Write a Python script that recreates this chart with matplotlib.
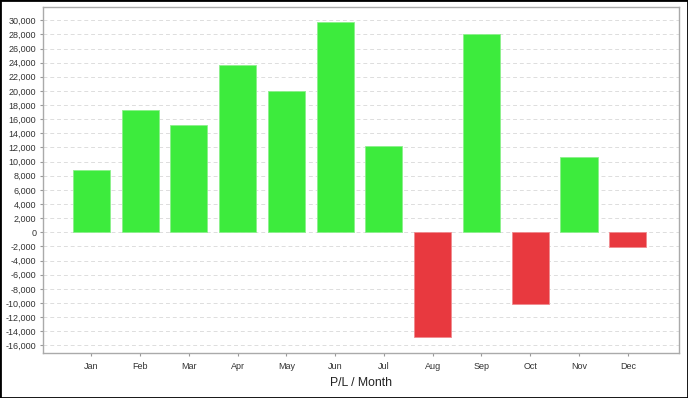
import matplotlib
matplotlib.use("Agg")
import matplotlib.pyplot as plt
from matplotlib.patches import Rectangle
from matplotlib.ticker import FuncFormatter, MultipleLocator

plt.rcParams["font.family"] = ["Liberation Sans", "DejaVu Sans"]

months = ["Jan", "Feb", "Mar", "Apr", "May", "Jun",
          "Jul", "Aug", "Sep", "Oct", "Nov", "Dec"]
pl_values = [8800, 17300, 15200, 23700, 20050, 29700,
             12200, -14800, 28100, -10200, 10600, -2050]

green = "#3deb3d"
red = "#e8393f"

fig = plt.figure(figsize=(6.88, 3.98), dpi=100)
ax = fig.add_axes([42.5 / 688, 45 / 398, (679 - 42.5) / 688, (353 - 7) / 398])

colors = [green if v >= 0 else red for v in pl_values]
edges = ["#8cf08c" if v >= 0 else "#f08a8e" for v in pl_values]
x = list(range(len(months)))
ax.bar(x, pl_values, width=0.76, color=colors, edgecolor=edges,
       linewidth=0.6, zorder=3)

ax.set_xlim(-1.0, 12.05)
ax.set_ylim(-17070, 31870)
ax.yaxis.set_major_locator(MultipleLocator(2000))
ax.yaxis.set_major_formatter(FuncFormatter(lambda v, p: f"{int(v):,}"))
ax.set_xticks(x)
ax.set_xticklabels(months)
ax.tick_params(axis="both", labelsize=6.5, colors="#999999",
               labelcolor="#333333", length=2.5, width=0.8, pad=2)
ax.tick_params(axis="x", pad=4)
ax.grid(axis="y", color="#dddddd", linestyle=(0, (4, 3)), linewidth=0.7,
        zorder=0)
for s in ax.spines.values():
    s.set_color("#aaaaaa")
    s.set_linewidth(1.0)

fig.text((42.5 + 679) / 2 / 688, 1 - 383 / 398, "P/L / Month",
         ha="center", va="center", fontsize=8.8, color="#222222")

fig.patches.append(Rectangle((0, 0), 1, 1, transform=fig.transFigure,
                             fill=False, edgecolor="black", linewidth=2))

fig.savefig("out.png", dpi=100)
